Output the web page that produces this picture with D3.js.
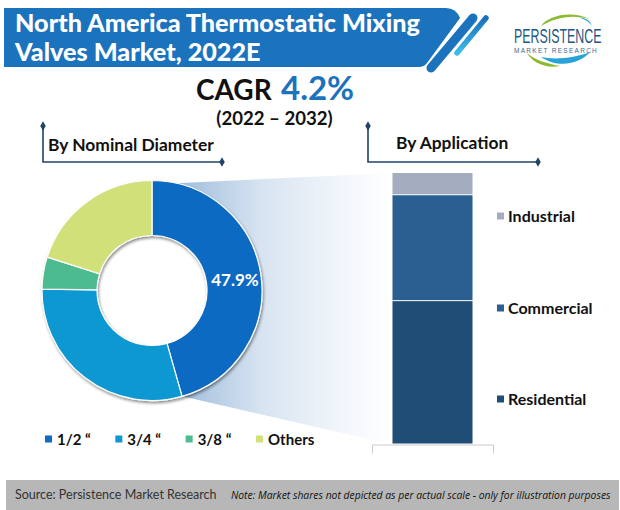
<!DOCTYPE html>
<html>
<head>
<meta charset="utf-8">
<title>North America Thermostatic Mixing Valves Market</title>
<script src="https://cdn.jsdelivr.net/npm/d3@7"></script>
<style>
  html, body { margin: 0; padding: 0; background: #fff; }
</style>
</head>
<body>
<div id="chart"></div>
<script>
// Donut: sweep is read off the picture, the printed label is separate (not to scale, says the note)
var diameters = ["1/2 “", "3/4 “", "3/8 “", "Others"];
var diameterShares = [45.6, 29.6, 4.7, 20.1];
var diameterColors = ["#0f6bc2", "#0898d2", "#4dbb90", "#d2e07a"];
var diameterLabel = "47.9%";

// Stacked bar, bottom to top
var applications = ["Residential", "Commercial", "Industrial"];
var applicationShares = [52.8, 39.0, 8.2];
var applicationColors = ["#204d75", "#2b5f91", "#a3adbf"];

var width = 620, height = 510;

var svg = d3.select("#chart").append("svg")
    .attr("width", width)
    .attr("height", height)
    .attr("font-family", "Lato, 'Open Sans', sans-serif")
    .style("display", "block");

var defs = svg.append("defs");

var fade = defs.append("linearGradient").attr("id", "fade");
fade.append("stop").attr("offset", "0%").attr("stop-color", "#9dbcdc");
fade.append("stop").attr("offset", "40%").attr("stop-color", "#d8e4f1");
fade.append("stop").attr("offset", "75%").attr("stop-color", "#f1f5fb");
fade.append("stop").attr("offset", "100%").attr("stop-color", "#ffffff");

var slash = defs.append("linearGradient").attr("id", "slash")
    .attr("x1", "0").attr("y1", "0").attr("x2", "0").attr("y2", "1");
slash.append("stop").attr("offset", "0%").attr("stop-color", "#1a6fbe");
slash.append("stop").attr("offset", "100%").attr("stop-color", "#3dbde8");

var shadow = defs.append("filter").attr("id", "shadow")
    .attr("x", "-10%").attr("y", "-10%").attr("width", "120%").attr("height", "120%");
shadow.append("feDropShadow").attr("dx", 1).attr("dy", 2).attr("stdDeviation", 1.5)
    .attr("flood-color", "#000").attr("flood-opacity", 0.45);

// ---- header banner ----
svg.append("path")
    .attr("d", "M4,8 H446 Q456,8 460,18 L427,63 Q424,67 419,67 H4 Z")
    .attr("fill", "#1b72bd");
svg.append("line")
    .attr("x1", 473).attr("y1", 18).attr("x2", 431).attr("y2", 68)
    .attr("stroke", "#1b72bd").attr("stroke-width", 9).attr("stroke-linecap", "round");
svg.append("path")
    .attr("d", "M486,18 L457,53")
    .attr("stroke", "url(#slash)").attr("fill", "none")
    .attr("stroke-width", 5.5).attr("stroke-linecap", "round");

svg.append("text").attr("x", 15).attr("y", 32)
    .attr("font-size", 25.2).attr("font-weight", 900).attr("fill", "#fff")
    .text("North America Thermostatic Mixing");
svg.append("text").attr("x", 15).attr("y", 61)
    .attr("font-size", 25.2).attr("font-weight", 900).attr("fill", "#fff")
    .text("Valves Market, 2022E");

// ---- logo ----
var logo = svg.append("g");
logo.append("path")
    .attr("d", "M541,26 C548,16 570,10 590,19 C570,14 555,18 541,26 Z")
    .attr("fill", "#8dbb2e");
logo.append("path")
    .attr("d", "M527,53 C532,62 545,69 560,66 C548,64 535,60 527,53 Z")
    .attr("fill", "#8dbb2e");
logo.append("path")
    .attr("d", "M541,57 C555,60 575,58 590,52 C582,62 560,70 541,57 Z")
    .attr("fill", "#27a3d8");
logo.append("path")
    .attr("d", "M578,17 Q590,18 592,26 Q588,20 578,17 Z")
    .attr("fill", "#27a3d8");
// no narrow font installed, so squeeze the wide one
logo.append("text")
    .attr("transform", "translate(514,42.5) scale(0.59,1)")
    .attr("font-family", "Liberation Sans").attr("font-size", 21).attr("fill", "#24567f")
    .text("PERSISTENCE");
logo.append("text").attr("x", 514).attr("y", 53)
    .attr("font-family", "Liberation Sans").attr("font-size", 6.5).attr("fill", "#3a6a8f")
    .attr("letter-spacing", 1.28)
    .text("MARKET RESEARCH");

// ---- CAGR ----
svg.append("text").attr("x", 196).attr("y", 100)
    .attr("font-size", 28).attr("font-weight", 700).attr("fill", "#111").text("CAGR");
svg.append("text").attr("x", 281).attr("y", 100)
    .attr("font-size", 33).attr("font-weight", 700).attr("fill", "#1b72bd").text("4.2%");
svg.append("text").attr("x", 274.5).attr("y", 125).attr("text-anchor", "middle")
    .attr("font-size", 18.6).attr("font-weight", 700).attr("fill", "#111").text("(2022 – 2032)");

// ---- section headings with their corner rules ----
function corner(x0, y0, x1, y1) {
    var g = svg.append("g").attr("fill", "#1f4468");
    g.append("path")
        .attr("d", "M" + x0 + "," + y0 + " V" + y1 + " H" + x1)
        .attr("fill", "none").attr("stroke", "#1f4468").attr("stroke-width", 1.6);
    [[x0, y0], [x1, y1]].forEach(function(p) {
        g.append("path").attr("d", d3.symbol(d3.symbolDiamond, 26))
            .attr("transform", "translate(" + p[0] + "," + p[1] + ")");
    });
}
corner(43, 126, 222, 162);
corner(368, 126, 538, 162);

svg.append("text").attr("x", 48).attr("y", 151)
    .attr("font-size", 17.4).attr("font-weight", 700).attr("fill", "#111").text("By Nominal Diameter");
svg.append("text").attr("x", 396).attr("y", 149)
    .attr("font-size", 17.4).attr("font-weight", 700).attr("fill", "#111").text("By Application");

// ---- donut ----
var cx = 152, cy = 290.5, outerR = 110, innerR = 55;

var pie = d3.pie().sort(null);
var arcs = pie(diameterShares);
var arc = d3.arc().innerRadius(innerR).outerRadius(outerR);

// ---- stacked bar scales ----
var barX = d3.scaleBand().domain(["share"]).range([372, 493]).paddingInner(0).paddingOuter(0.256);
var barY = d3.scaleLinear().domain([0, 100]).range([444.5, 173]);

var stacked = d3.stack().keys(d3.range(applications.length))([applicationShares]);

// Blue wedge joining the big slice to the bar, goes under the donut
var wedgeTopAngle = arcs[0].startAngle + 0.22;
var wedgeBottomAngle = arcs[0].endAngle;
svg.append("path")
    .attr("d", "M" + (cx + outerR * Math.sin(wedgeTopAngle)) + "," + (cy - outerR * Math.cos(wedgeTopAngle))
        + " L" + barX("share") + "," + barY(100)
        + " V" + barY(0)
        + " L" + (cx + outerR * Math.sin(wedgeBottomAngle)) + "," + (cy - outerR * Math.cos(wedgeBottomAngle)) + " Z")
    .attr("fill", "url(#fade)");

var donut = svg.append("g")
    .attr("transform", "translate(" + cx + "," + cy + ")");

// white hole so the wedge does not show through
donut.append("circle").attr("r", outerR - 5).attr("fill", "#fff");

donut.append("g").attr("filter", "url(#shadow)")
    .selectAll("path")
    .data(arcs)
    .enter()
    .append("path")
    .attr("d", arc)
    .attr("fill", function(d, i) { return diameterColors[i]; })
    .attr("stroke", "#fff")
    .attr("stroke-width", 1.2);

donut.append("text")
    .attr("x", 83)
    .attr("y", -5)
    .attr("text-anchor", "middle")
    .attr("font-size", 17).attr("font-weight", 700).attr("fill", "#fff")
    .text(diameterLabel);

// Donut legend
var legendX = d3.scalePoint().domain(diameters).range([45, 256]);
var legend = svg.append("g").selectAll("g")
    .data(diameters)
    .enter()
    .append("g")
    .attr("transform", function(d) { return "translate(" + legendX(d) + ",439)"; });
legend.append("rect")
    .attr("x", 0).attr("y", -3.5).attr("width", 7).attr("height", 7)
    .attr("fill", function(d, i) { return diameterColors[i]; });
legend.append("text")
    .attr("x", 12).attr("y", 5.5)
    .attr("font-size", 15).attr("font-weight", 700).attr("fill", "#111")
    .text(function(d) { return d; });

// Bar
svg.append("g").selectAll("rect")
    .data(stacked)
    .enter()
    .append("rect")
    .attr("x", barX("share"))
    .attr("width", barX.bandwidth())
    .attr("y", function(d) { return barY(d[0][1]); })
    .attr("height", function(d) { return barY(d[0][0]) - barY(d[0][1]) - 1; })
    .attr("fill", function(d, i) { return applicationColors[i]; });

var axis = svg.append("g")
    .attr("transform", "translate(0," + barY(0) + ")")
    .call(d3.axisBottom(barX).tickSize(0).tickSizeOuter(9).tickFormat(""));
axis.select(".domain").attr("stroke", "#cccccc");

// Bar legend
var appLegendY = d3.scaleOrdinal().domain(applications).range([399, 308, 216]);
var appLegend = svg.append("g").selectAll("g")
    .data(applications)
    .enter()
    .append("g")
    .attr("transform", function(d) { return "translate(497," + appLegendY(d) + ")"; });
appLegend.append("rect")
    .attr("x", 0).attr("y", -3.5).attr("width", 7).attr("height", 7)
    .attr("fill", function(d, i) { return applicationColors[i]; });
appLegend.append("text")
    .attr("x", 11).attr("y", 5.5)
    .attr("font-size", 16).attr("font-weight", 700).attr("fill", "#111")
    .text(function(d) { return d; });

// ---- footer ----
svg.append("rect").attr("x", 6).attr("y", 480).attr("width", 613).attr("height", 30).attr("fill", "#b7b7b7");
svg.append("text").attr("x", 15).attr("y", 499)
    .attr("font-size", 12.5).attr("fill", "#333").text("Source: Persistence Market Research");
svg.append("text").attr("x", 231).attr("y", 499)
    .attr("font-family", "Open Sans").attr("font-style", "italic")
    .attr("font-size", 10.37).attr("fill", "#111")
    .text("Note: Market shares not depicted as per actual scale - only for illustration purposes");
</script>
</body>
</html>
